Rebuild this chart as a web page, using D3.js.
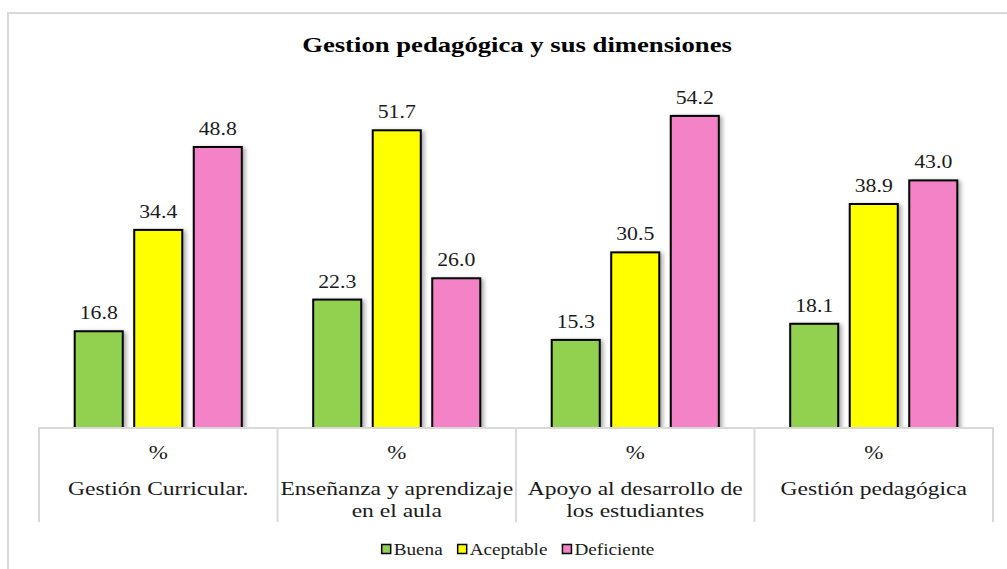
<!DOCTYPE html>
<html>
<head>
<meta charset="utf-8">
<script src="https://cdn.jsdelivr.net/npm/d3@7"></script>
<style>
  html, body { margin: 0; padding: 0; background: #fff; }
  svg { display: block; }
</style>
</head>
<body>
<svg id="chart" width="1007" height="569"></svg>
<script>
// ---- data ----
const title = "Gestion pedagógica y sus dimensiones";
const categories = [
  ["Gestión Curricular."],
  ["Enseñanza y aprendizaje", "en el aula"],
  ["Apoyo al desarrollo de", "los estudiantes"],
  ["Gestión pedagógica"]
];
const unitLabel = "%";
const seriesNames = ["Buena", "Aceptable", "Deficiente"];
const buena = [16.8, 22.3, 15.3, 18.1];
const aceptable = [34.4, 51.7, 30.5, 38.9];
const deficiente = [48.8, 26.0, 54.2, 43.0];
const seriesColors = ["#92D050", "#FFFF00", "#F383C6"];

// ---- layout ----
const FONT = "Liberation Serif";
const BASE = 40;   // render glyphs large, then scale down
const SX = 1.21;   // horizontal text stretch seen in the reference
const plot = { left: 39, right: 993, top: 82.5, bottom: 428 };
const tableBottom = 522;

const svg = d3.select("#chart");

const defs = svg.append("defs");
const f = defs.append("filter").attr("id", "shadow")
  .attr("x", "-20%").attr("y", "-10%").attr("width", "150%").attr("height", "130%");
f.append("feDropShadow").attr("dx", 2.5).attr("dy", 1.5)
  .attr("stdDeviation", 2).attr("flood-color", "#000").attr("flood-opacity", 0.35);

// chart area border
svg.append("rect").attr("x", 8).attr("y", 13).attr("width", 1010).attr("height", 580)
  .attr("fill", "#fff").attr("stroke", "#d9d9d9").attr("stroke-width", 2);

function stretchedText(parent, x, y, str, opts) {
  const k = opts.size / BASE;
  const g = parent.append("g").attr("transform", `translate(${x},${y}) scale(${(opts.sx || SX) * k},${k})`);
  const t = g.append("text").attr("x", 0).attr("y", 0)
    .attr("font-family", FONT)
    .attr("text-anchor", opts.anchor || "middle")
    .attr("font-size", BASE)
    .attr("fill", opts.fill || "#1a1a1a")
    .text(str);
  if (opts.weight) t.attr("font-weight", opts.weight);
  return t;
}

// title
stretchedText(svg, 517, 52, title, { size: 21, weight: "bold", fill: "#000", sx: 1.27 });

// scales
const x0 = d3.scaleBand().domain(d3.range(categories.length))
  .range([plot.left, plot.right]).paddingInner(0).paddingOuter(0);
const x1 = d3.scaleBand().domain(d3.range(seriesNames.length))
  .range([0, x0.bandwidth()]).paddingInner(0.193).paddingOuter(0.6);
const y = d3.scaleLinear().domain([0, 60]).range([plot.bottom, plot.top]);

const seriesValues = [buena, aceptable, deficiente];

// bars
const gBars = svg.append("g");
seriesValues.forEach((vals, si) => {
  gBars.selectAll(null).data(vals).join("rect")
    .attr("x", (d, i) => x0(i) + x1(si))
    .attr("y", d => y(d))
    .attr("width", x1.bandwidth())
    .attr("height", d => y(0) - y(d))
    .attr("fill", seriesColors[si])
    .attr("stroke", "#000")
    .attr("stroke-width", 2)
    .attr("filter", "url(#shadow)");
});

// value labels
const gLab = svg.append("g");
seriesValues.forEach((vals, si) => {
  vals.forEach((v, i) => {
    stretchedText(gLab, x0(i) + x1(si) + x1.bandwidth() / 2, y(v) - 12, d3.format(".1f")(v), { size: 18 });
  });
});

// category axis table
const gAxis = svg.append("g");
gAxis.append("rect").attr("x", plot.left).attr("y", plot.bottom)
  .attr("width", plot.right - plot.left).attr("height", tableBottom - plot.bottom + 10)
  .attr("fill", "#fff");
gAxis.append("line").attr("x1", plot.left - 1).attr("x2", plot.right + 1)
  .attr("y1", plot.bottom).attr("y2", plot.bottom)
  .attr("stroke", "#d9d9d9").attr("stroke-width", 2);
const ticks = d3.range(categories.length + 1).map(i => i < categories.length ? x0(i) : plot.right);
gAxis.selectAll(".tick").data(ticks).join("line")
  .attr("x1", d => d).attr("x2", d => d)
  .attr("y1", plot.bottom).attr("y2", tableBottom)
  .attr("stroke", "#d9d9d9").attr("stroke-width", 2);

categories.forEach((lines, i) => {
  const cx = x0(i) + x0.bandwidth() / 2;
  stretchedText(gAxis, cx, 459, unitLabel, { size: 19 });
  lines.forEach((ln, k) => {
    stretchedText(gAxis, cx, 495 + k * 22, ln, { size: 19, sx: 1.24 });
  });
});

// legend
const gLeg = svg.append("g");
const legSX = 1.2, legSize = 16, sw = 9, gapSw = 3, gapItem = 15;
let items = seriesNames.map((n, i) => {
  const g = gLeg.append("g");
  g.append("rect").attr("width", sw).attr("height", sw).attr("y", -sw / 2)
    .attr("fill", seriesColors[i]).attr("stroke", "#000").attr("stroke-width", 1.5);
  const t = stretchedText(g, sw + gapSw, 5.5, n, { size: legSize, sx: legSX, anchor: "start" });
  const w = sw + gapSw + t.node().getComputedTextLength() * legSX * legSize / BASE;
  return { g, w };
});
const totalW = d3.sum(items, d => d.w) + gapItem * (items.length - 1);
let cx = 518 - totalW / 2;
items.forEach(it => {
  it.g.attr("transform", `translate(${cx},549)`);
  cx += it.w + gapItem;
});
</script>
</body>
</html>
